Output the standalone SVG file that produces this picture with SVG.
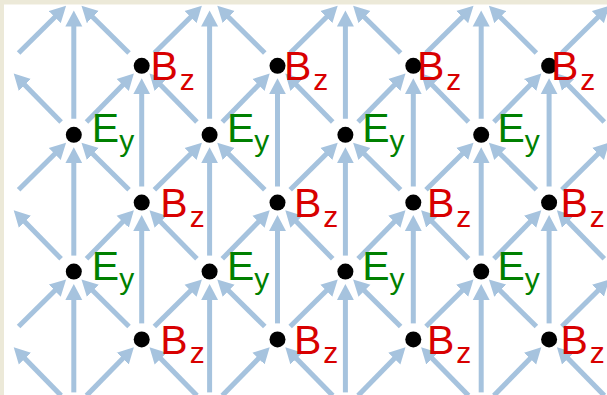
<svg xmlns="http://www.w3.org/2000/svg" width="607" height="395" viewBox="0 0 607 395">
<style>
.c{stroke:#a6c3de;stroke-width:5;fill:none;marker-end:url(#ah)}
.d{fill:#000}
.b{font-family:"Liberation Sans",Arial,sans-serif;font-size:41px;fill:#d80000}
.e{font-family:"Liberation Sans",Arial,sans-serif;font-size:41px;fill:#008000}
.s{font-size:30px}
</style>
<defs>
<marker id="ah" viewBox="0 -9 17 18" refX="6" refY="0" markerWidth="17" markerHeight="18" markerUnits="userSpaceOnUse" orient="auto">
<path d="M0,-8.5 L16,0 L0,8.5 z" fill="#a6c3de"/>
</marker>
<clipPath id="clip"><rect x="4" y="4.5" width="603" height="391"/></clipPath>
</defs>
<rect width="607" height="395" fill="#ece9d8"/>
<rect x="4" y="4.5" width="603" height="391" fill="#fff"/>
<g id="connectors" clip-path="url(#clip)">
<line class="c" x1="73.8" y1="118.8" x2="73.8" y2="20.5"/>
<line class="c" x1="73.8" y1="255.6" x2="73.8" y2="157.3"/>
<line class="c" x1="73.8" y1="392.4" x2="73.8" y2="294.1"/>
<line class="c" x1="209.6" y1="118.8" x2="209.6" y2="20.5"/>
<line class="c" x1="209.6" y1="255.6" x2="209.6" y2="157.3"/>
<line class="c" x1="209.6" y1="392.4" x2="209.6" y2="294.1"/>
<line class="c" x1="345.4" y1="118.8" x2="345.4" y2="20.5"/>
<line class="c" x1="345.4" y1="255.6" x2="345.4" y2="157.3"/>
<line class="c" x1="345.4" y1="392.4" x2="345.4" y2="294.1"/>
<line class="c" x1="481.2" y1="118.8" x2="481.2" y2="20.5"/>
<line class="c" x1="481.2" y1="255.6" x2="481.2" y2="157.3"/>
<line class="c" x1="481.2" y1="392.4" x2="481.2" y2="294.1"/>
<line class="c" x1="141.7" y1="186.6" x2="141.7" y2="88.3"/>
<line class="c" x1="141.7" y1="323.4" x2="141.7" y2="225.1"/>
<line class="c" x1="277.5" y1="186.6" x2="277.5" y2="88.3"/>
<line class="c" x1="277.5" y1="323.4" x2="277.5" y2="225.1"/>
<line class="c" x1="413.3" y1="186.6" x2="413.3" y2="88.3"/>
<line class="c" x1="413.3" y1="323.4" x2="413.3" y2="225.1"/>
<line class="c" x1="549.1" y1="186.6" x2="549.1" y2="88.3"/>
<line class="c" x1="549.1" y1="323.4" x2="549.1" y2="225.1"/>
<line class="c" x1="86.5" y1="122.0" x2="126.9" y2="80.7"/>
<line class="c" x1="222.3" y1="122.0" x2="262.7" y2="80.7"/>
<line class="c" x1="358.1" y1="122.0" x2="398.5" y2="80.7"/>
<line class="c" x1="493.9" y1="122.0" x2="534.3" y2="80.7"/>
<line class="c" x1="86.5" y1="258.8" x2="126.9" y2="217.5"/>
<line class="c" x1="222.3" y1="258.8" x2="262.7" y2="217.5"/>
<line class="c" x1="358.1" y1="258.8" x2="398.5" y2="217.5"/>
<line class="c" x1="493.9" y1="258.8" x2="534.3" y2="217.5"/>
<line class="c" x1="86.5" y1="395.6" x2="126.9" y2="354.3"/>
<line class="c" x1="222.3" y1="395.6" x2="262.7" y2="354.3"/>
<line class="c" x1="358.1" y1="395.6" x2="398.5" y2="354.3"/>
<line class="c" x1="493.9" y1="395.6" x2="534.3" y2="354.3"/>
<line class="c" x1="61.1" y1="122.0" x2="20.7" y2="80.7"/>
<line class="c" x1="196.9" y1="122.0" x2="156.5" y2="80.7"/>
<line class="c" x1="332.7" y1="122.0" x2="292.3" y2="80.7"/>
<line class="c" x1="468.5" y1="122.0" x2="428.1" y2="80.7"/>
<line class="c" x1="604.3" y1="122.0" x2="563.9" y2="80.7"/>
<line class="c" x1="61.1" y1="258.8" x2="20.7" y2="217.5"/>
<line class="c" x1="196.9" y1="258.8" x2="156.5" y2="217.5"/>
<line class="c" x1="332.7" y1="258.8" x2="292.3" y2="217.5"/>
<line class="c" x1="468.5" y1="258.8" x2="428.1" y2="217.5"/>
<line class="c" x1="604.3" y1="258.8" x2="563.9" y2="217.5"/>
<line class="c" x1="61.1" y1="395.6" x2="20.7" y2="354.3"/>
<line class="c" x1="196.9" y1="395.6" x2="156.5" y2="354.3"/>
<line class="c" x1="332.7" y1="395.6" x2="292.3" y2="354.3"/>
<line class="c" x1="468.5" y1="395.6" x2="428.1" y2="354.3"/>
<line class="c" x1="604.3" y1="395.6" x2="563.9" y2="354.3"/>
<line class="c" x1="129.0" y1="53.0" x2="88.6" y2="12.9"/>
<line class="c" x1="264.8" y1="53.0" x2="224.4" y2="12.9"/>
<line class="c" x1="400.6" y1="53.0" x2="360.2" y2="12.9"/>
<line class="c" x1="536.4" y1="53.0" x2="496.0" y2="12.9"/>
<line class="c" x1="129.0" y1="189.8" x2="88.6" y2="149.7"/>
<line class="c" x1="264.8" y1="189.8" x2="224.4" y2="149.7"/>
<line class="c" x1="400.6" y1="189.8" x2="360.2" y2="149.7"/>
<line class="c" x1="536.4" y1="189.8" x2="496.0" y2="149.7"/>
<line class="c" x1="129.0" y1="326.6" x2="88.6" y2="286.5"/>
<line class="c" x1="264.8" y1="326.6" x2="224.4" y2="286.5"/>
<line class="c" x1="400.6" y1="326.6" x2="360.2" y2="286.5"/>
<line class="c" x1="536.4" y1="326.6" x2="496.0" y2="286.5"/>
<line class="c" x1="18.6" y1="53.0" x2="59.0" y2="12.9"/>
<line class="c" x1="154.4" y1="53.0" x2="194.8" y2="12.9"/>
<line class="c" x1="290.2" y1="53.0" x2="330.6" y2="12.9"/>
<line class="c" x1="426.0" y1="53.0" x2="466.4" y2="12.9"/>
<line class="c" x1="561.8" y1="53.0" x2="602.2" y2="12.9"/>
<line class="c" x1="18.6" y1="189.8" x2="59.0" y2="149.7"/>
<line class="c" x1="154.4" y1="189.8" x2="194.8" y2="149.7"/>
<line class="c" x1="290.2" y1="189.8" x2="330.6" y2="149.7"/>
<line class="c" x1="426.0" y1="189.8" x2="466.4" y2="149.7"/>
<line class="c" x1="561.8" y1="189.8" x2="602.2" y2="149.7"/>
<line class="c" x1="18.6" y1="326.6" x2="59.0" y2="286.5"/>
<line class="c" x1="154.4" y1="326.6" x2="194.8" y2="286.5"/>
<line class="c" x1="290.2" y1="326.6" x2="330.6" y2="286.5"/>
<line class="c" x1="426.0" y1="326.6" x2="466.4" y2="286.5"/>
<line class="c" x1="561.8" y1="326.6" x2="602.2" y2="286.5"/>
</g>
<g id="bz-0-0"><circle class="d" cx="141.7" cy="65.8" r="8"/><text class="b" x="150.5" y="80.3">B<tspan class="s" dx="2" dy="9.5">z</tspan></text></g>
<g id="bz-1-0"><circle class="d" cx="277.5" cy="65.8" r="8"/><text class="b" x="284" y="80.3">B<tspan class="s" dx="2" dy="9.5">z</tspan></text></g>
<g id="bz-2-0"><circle class="d" cx="413.3" cy="65.8" r="8"/><text class="b" x="417" y="80.3">B<tspan class="s" dx="2" dy="9.5">z</tspan></text></g>
<g id="bz-3-0"><circle class="d" cx="549.1" cy="65.8" r="8"/><text class="b" x="551" y="80.3">B<tspan class="s" dx="2" dy="9.5">z</tspan></text></g>
<g id="ey-0-0"><circle class="d" cx="73.8" cy="134.8" r="8"/><text class="e" x="91.8" y="142.3">E<tspan class="s" dy="9">y</tspan></text></g>
<g id="ey-1-0"><circle class="d" cx="209.6" cy="134.8" r="8"/><text class="e" x="227" y="142.3">E<tspan class="s" dy="9">y</tspan></text></g>
<g id="ey-2-0"><circle class="d" cx="345.4" cy="134.8" r="8"/><text class="e" x="362.2" y="142.3">E<tspan class="s" dy="9">y</tspan></text></g>
<g id="ey-3-0"><circle class="d" cx="481.2" cy="134.8" r="8"/><text class="e" x="497.4" y="142.3">E<tspan class="s" dy="9">y</tspan></text></g>
<g id="bz-0-1"><circle class="d" cx="141.7" cy="202.6" r="8"/><text class="b" x="160.3" y="217.1">B<tspan class="s" dx="2" dy="9.5">z</tspan></text></g>
<g id="bz-1-1"><circle class="d" cx="277.5" cy="202.6" r="8"/><text class="b" x="294" y="217.1">B<tspan class="s" dx="2" dy="9.5">z</tspan></text></g>
<g id="bz-2-1"><circle class="d" cx="413.3" cy="202.6" r="8"/><text class="b" x="427" y="217.1">B<tspan class="s" dx="2" dy="9.5">z</tspan></text></g>
<g id="bz-3-1"><circle class="d" cx="549.1" cy="202.6" r="8"/><text class="b" x="560.5" y="217.1">B<tspan class="s" dx="2" dy="9.5">z</tspan></text></g>
<g id="ey-0-1"><circle class="d" cx="73.8" cy="271.6" r="8"/><text class="e" x="91.8" y="279.6">E<tspan class="s" dy="9">y</tspan></text></g>
<g id="ey-1-1"><circle class="d" cx="209.6" cy="271.6" r="8"/><text class="e" x="227" y="279.6">E<tspan class="s" dy="9">y</tspan></text></g>
<g id="ey-2-1"><circle class="d" cx="345.4" cy="271.6" r="8"/><text class="e" x="362.2" y="279.6">E<tspan class="s" dy="9">y</tspan></text></g>
<g id="ey-3-1"><circle class="d" cx="481.2" cy="271.6" r="8"/><text class="e" x="497.4" y="279.6">E<tspan class="s" dy="9">y</tspan></text></g>
<g id="bz-0-2"><circle class="d" cx="141.7" cy="339.4" r="8"/><text class="b" x="160.3" y="353.9">B<tspan class="s" dx="2" dy="9.5">z</tspan></text></g>
<g id="bz-1-2"><circle class="d" cx="277.5" cy="339.4" r="8"/><text class="b" x="294" y="353.9">B<tspan class="s" dx="2" dy="9.5">z</tspan></text></g>
<g id="bz-2-2"><circle class="d" cx="413.3" cy="339.4" r="8"/><text class="b" x="427" y="353.9">B<tspan class="s" dx="2" dy="9.5">z</tspan></text></g>
<g id="bz-3-2"><circle class="d" cx="549.1" cy="339.4" r="8"/><text class="b" x="560.5" y="353.9">B<tspan class="s" dx="2" dy="9.5">z</tspan></text></g>
</svg>
